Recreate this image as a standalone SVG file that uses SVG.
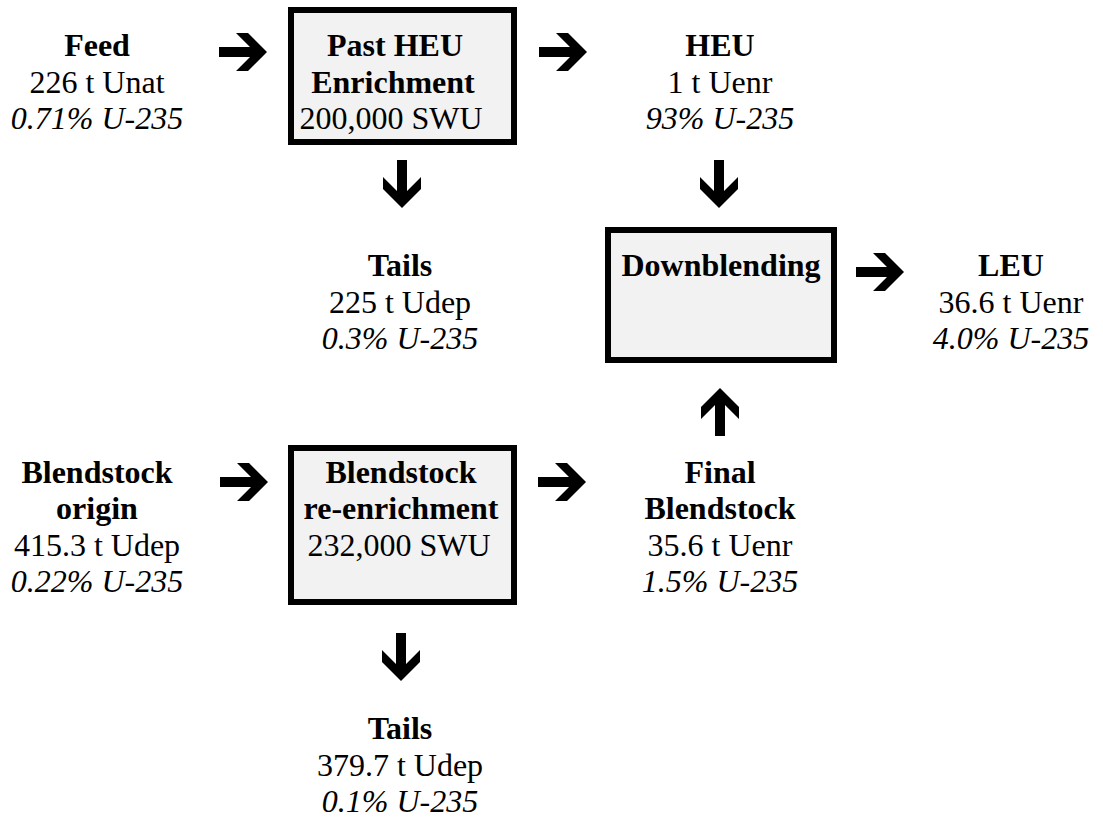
<svg xmlns="http://www.w3.org/2000/svg" xmlns:xlink="http://www.w3.org/1999/xlink" width="1103" height="829" viewBox="0 0 1103 829">
  <style>
    text { font-family: "Liberation Serif", "Times New Roman", serif; font-size: 32px; fill: #000; text-anchor: middle; }
    .b { font-weight: bold; }
    .i { font-style: italic; }
    .box { fill: #f2f2f2; stroke: #000; stroke-width: 6; }
    .arrow { fill: #000; }
  </style>
  <defs>
    <path id="arr" class="arrow" d="M-24,-5 H7 L-7,-19 H5 L24,0 L5,19 H-7 L7,5 H-24 Z"/>
  </defs>
  <rect width="1103" height="829" fill="#fff"/>

  <g id="connectors">
    <use xlink:href="#arr" transform="translate(243,52)"/>
    <use xlink:href="#arr" transform="translate(563,52)"/>
    <use xlink:href="#arr" transform="translate(402,184) rotate(90)"/>
    <use xlink:href="#arr" transform="translate(719,184) rotate(90)"/>
    <use xlink:href="#arr" transform="translate(880,272)"/>
    <use xlink:href="#arr" transform="translate(720,412) rotate(-90)"/>
    <use xlink:href="#arr" transform="translate(244,482)"/>
    <use xlink:href="#arr" transform="translate(562,482)"/>
    <use xlink:href="#arr" transform="translate(401,657) rotate(90)"/>
  </g>

  <g id="feed">
    <text x="97" y="56" class="b">Feed</text>
    <text x="97" y="93">226 t Unat</text>
    <text x="97" y="129" class="i">0.71% U-235</text>
  </g>

  <g id="past-heu-enrichment">
    <rect class="box" x="291" y="10" width="223" height="132"/>
    <text x="395" y="56" class="b">Past HEU</text>
    <text x="393" y="93" class="b">Enrichment</text>
    <text x="391" y="129">200,000 SWU</text>
  </g>

  <g id="heu">
    <text x="720" y="56" class="b">HEU</text>
    <text x="720" y="93">1 t Uenr</text>
    <text x="720" y="129" class="i">93% U-235</text>
  </g>

  <g id="tails-1">
    <text x="400" y="276" class="b">Tails</text>
    <text x="400" y="313">225 t Udep</text>
    <text x="400" y="349" class="i">0.3% U-235</text>
  </g>

  <g id="downblending">
    <rect class="box" x="608" y="230" width="226" height="130"/>
    <text x="721" y="276" class="b">Downblending</text>
  </g>

  <g id="leu">
    <text x="1011" y="276" class="b">LEU</text>
    <text x="1011" y="313">36.6 t Uenr</text>
    <text x="1011" y="349" class="i">4.0% U-235</text>
  </g>

  <g id="blendstock-origin">
    <text x="97" y="483" class="b">Blendstock</text>
    <text x="97" y="519" class="b">origin</text>
    <text x="97" y="556">415.3 t Udep</text>
    <text x="97" y="592" class="i">0.22% U-235</text>
  </g>

  <g id="blendstock-reenrichment">
    <rect class="box" x="291" y="448" width="223" height="154"/>
    <text x="401" y="483" class="b">Blendstock</text>
    <text x="401" y="519" class="b">re-enrichment</text>
    <text x="399" y="556">232,000 SWU</text>
  </g>

  <g id="final-blendstock">
    <text x="720" y="483" class="b">Final</text>
    <text x="720" y="519" class="b">Blendstock</text>
    <text x="720" y="556">35.6 t Uenr</text>
    <text x="720" y="592" class="i">1.5% U-235</text>
  </g>

  <g id="tails-2">
    <text x="400" y="739" class="b">Tails</text>
    <text x="400" y="776">379.7 t Udep</text>
    <text x="400" y="812" class="i">0.1% U-235</text>
  </g>
</svg>
